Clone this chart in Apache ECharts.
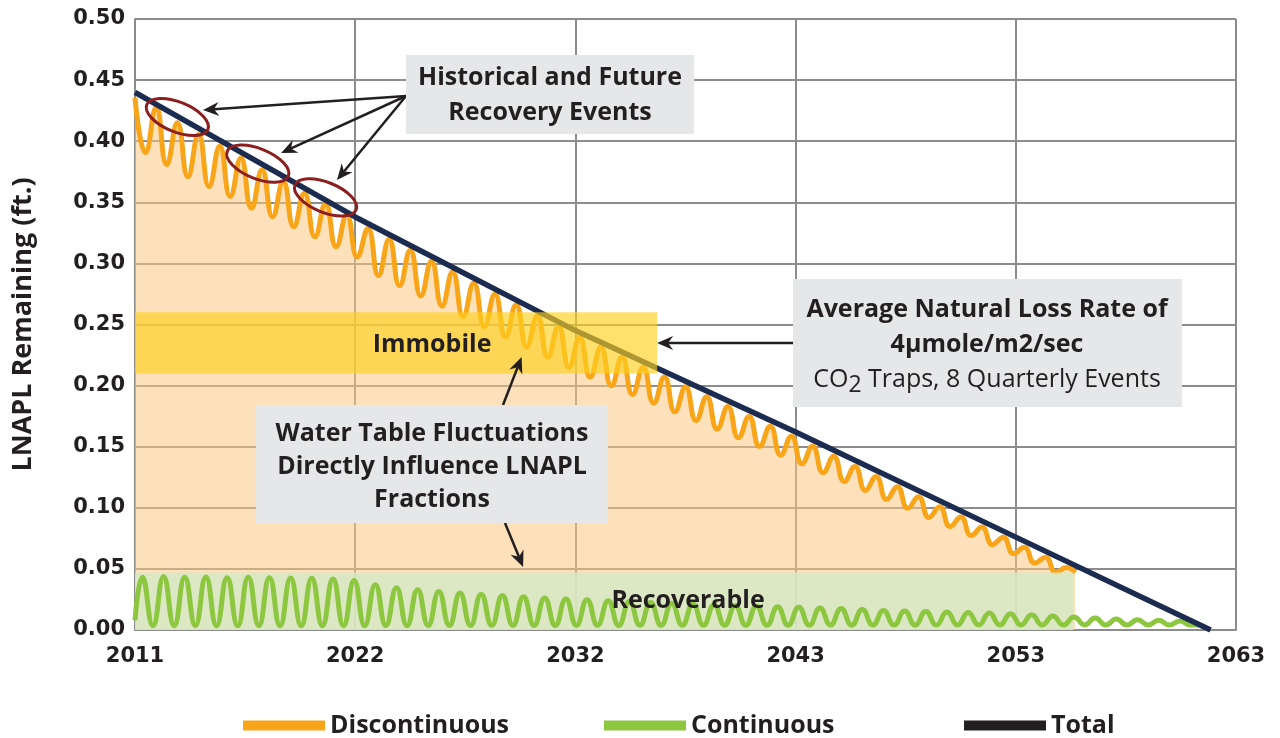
<!DOCTYPE html>
<html>
<head>
<meta charset="utf-8">
<script src="https://cdn.jsdelivr.net/npm/echarts@6/dist/echarts.min.js"></script>
<style>
  html, body { margin: 0; padding: 0; background: #ffffff; }
  #chart { width: 1280px; height: 738px; }
</style>
</head>
<body>
<div id="chart"></div>
<script>
// Horizontal axis runs in years since 2011; a labelled gridline every 10.4 years.
const tickLabels = ['2011', '2022', '2032', '2043', '2053', '2063'];
const tickStep = 10.4;

// Discontinuous LNAPL (ft.): seasonal highs at each whole year, lows half a year later.
const discontinuousPeaks = [
  0.4356, 0.4276, 0.4150, 0.4054, 0.3958, 0.3863, 0.3766, 0.3670, 0.3575, 0.3490, 0.3396,
  0.3286, 0.3197, 0.3108, 0.3018, 0.2929, 0.2839, 0.2750, 0.2661, 0.2571, 0.2482,
  0.2394, 0.2313, 0.2232, 0.2151, 0.2071, 0.1990, 0.1909, 0.1828, 0.1747, 0.1667,
  0.1586, 0.1504, 0.1421, 0.1338, 0.1256, 0.1173, 0.1090, 0.1008, 0.0925, 0.0842,
  0.0760, 0.0677, 0.0595, 0.0512
];
const discontinuousTroughs = [
  0.3906, 0.3808, 0.3710, 0.3629, 0.3547, 0.3451, 0.3382, 0.3300, 0.3218, 0.3136, 0.3053,
  0.2901, 0.2817, 0.2734, 0.2650, 0.2566, 0.2483, 0.2399, 0.2316, 0.2232, 0.2149,
  0.2070, 0.1998, 0.1927, 0.1856, 0.1785, 0.1714, 0.1644, 0.1573, 0.1502, 0.1431,
  0.1360, 0.1287, 0.1215, 0.1142, 0.1069, 0.0996, 0.0921, 0.0847, 0.0773, 0.0698,
  0.0623, 0.0548, 0.0471
];
const discontinuousEnd = [44.4, 0.047];

// Continuous LNAPL (ft.): highs at year + 0.35, lows at year + 0.85.
const continuousStart = [0, 0.008];
const continuousPeaks = [
  0.0431, 0.0435, 0.0431, 0.0433, 0.0428, 0.0432, 0.0428, 0.0425, 0.0423, 0.0418,
  0.0405, 0.0370, 0.0345, 0.0330, 0.0315, 0.0303, 0.0292, 0.0282, 0.0272, 0.0262,
  0.0254, 0.0247, 0.0240, 0.0233, 0.0226, 0.0219, 0.0213, 0.0207, 0.0201, 0.0196,
  0.0191, 0.0186, 0.0181, 0.0176, 0.0168, 0.0160, 0.0155, 0.0151, 0.0147, 0.0143,
  0.0139, 0.0133, 0.0125, 0.0115, 0.0106, 0.0098, 0.0090, 0.0084, 0.0079, 0.0074
];
const continuousTroughs = [
  0.0035, 0.0034, 0.0035, 0.0035, 0.0034, 0.0035, 0.0035, 0.0034, 0.0035, 0.0035,
  0.0035, 0.0036, 0.0035, 0.0036, 0.0036, 0.0036, 0.0037, 0.0036, 0.0037, 0.0037,
  0.0037, 0.0038, 0.0037, 0.0038, 0.0038, 0.0038, 0.0038, 0.0039, 0.0038, 0.0039,
  0.0039, 0.0039, 0.0040, 0.0039, 0.0040, 0.0040, 0.0040, 0.0040, 0.0041, 0.0040,
  0.0041, 0.0041, 0.0041, 0.0041, 0.0041, 0.0041, 0.0041, 0.0041, 0.0041, 0.0041
];
const continuousEnd = [50.3, 0.004];

// Total LNAPL remaining (ft.)
const totalYears = [0, 10.4, 20.8, 31.2, 41.6, 50.8];
const totalValues = [0.440, 0.338, 0.245, 0.162, 0.076, 0.000];

// Shaded fraction bands: [year from, year to, value from, value to]
const immobileBand = [0, 24.66, 0.21, 0.26];
const recoverableBand = [0, 44.3, 0, 0.047];

const C = {
  orange: '#f9a51a',
  green: '#8dc63f',
  navy: '#1c2b50',
  ink: '#231f20',
  grid: '#8c8c8c',
  box: '#e6e7e8',
  ring: '#8b1e1e'
};
const FONT = 'Open Sans';

const discontinuousData = [];
discontinuousPeaks.forEach((v, k) => {
  discontinuousData.push([k, v]);
  if (k < discontinuousTroughs.length) discontinuousData.push([k + 0.5, discontinuousTroughs[k]]);
});
discontinuousData.push(discontinuousEnd);

const continuousData = [continuousStart];
continuousPeaks.forEach((v, k) => {
  continuousData.push([k + 0.35, v]);
  continuousData.push([k + 0.85, continuousTroughs[k]]);
});
continuousData.push(continuousEnd);

const totalData = totalYears.map((t, i) => [t, totalValues[i]]);

const chart = echarts.init(document.getElementById('chart'), null, { renderer: 'canvas' });

const labelFont = { fontFamily: 'DejaVu Sans', fontWeight: 'bold', fontSize: 21, color: C.ink };
const legendText = { fontFamily: FONT, fontWeight: 'bold', fontSize: 25, color: C.ink };

function legendAt(left, name, color) {
  return {
    left, top: 708, itemWidth: 82, itemHeight: 10, icon: 'rect', selectedMode: false,
    textStyle: legendText,
    data: [{ name, itemStyle: { color } }]
  };
}

chart.setOption({
  animation: false,
  backgroundColor: '#ffffff',
  grid: { left: 135, right: 44, top: 19, bottom: 108, containLabel: false },
  xAxis: {
    type: 'value', min: 0, max: 52, interval: tickStep,
    axisLine: { show: true, lineStyle: { color: C.grid, width: 2 } },
    axisTick: { show: false },
    splitLine: { show: true, lineStyle: { color: C.grid, width: 2 } },
    axisLabel: Object.assign({ margin: 16, formatter: v => tickLabels[Math.round(v / tickStep)] }, labelFont)
  },
  yAxis: {
    type: 'value', min: 0, max: 0.5, interval: 0.05,
    name: 'LNAPL Remaining (ft.)', nameLocation: 'middle', nameGap: 98,
    nameTextStyle: { fontFamily: FONT, fontWeight: 'bold', fontSize: 27, color: C.ink },
    axisLine: { show: true, lineStyle: { color: C.grid, width: 2 } },
    axisTick: { show: false },
    splitLine: { show: true, lineStyle: { color: C.grid, width: 2 } },
    axisLabel: Object.assign({ margin: 10, formatter: v => v.toFixed(2) }, labelFont)
  },
  legend: [
    legendAt(238, 'Discontinuous', C.orange),
    legendAt(599, 'Continuous', C.green),
    legendAt(959, 'Total', C.ink)
  ],
  series: [
    {
      name: 'Discontinuous', type: 'line', z: 2, smooth: true, showSymbol: false,
      data: discontinuousData,
      itemStyle: { color: C.orange },
      lineStyle: { color: C.orange, width: 5 },
      areaStyle: { color: 'rgba(252,200,130,0.55)', opacity: 1, origin: 'start' }
    },
    {
      name: 'recoverable-band', type: 'line', z: 3, data: [], silent: true,
      markArea: {
        z: 3, silent: true,
        label: { show: false },
        itemStyle: { color: 'rgba(214,232,196,0.85)', opacity: 1 },
        data: [[
          { coord: [recoverableBand[0], recoverableBand[2]] },
          { coord: [recoverableBand[1], recoverableBand[3]] }
        ]]
      }
    },
    {
      name: 'Continuous', type: 'line', z: 4, smooth: true, showSymbol: false,
      data: continuousData,
      itemStyle: { color: C.green },
      lineStyle: { color: C.green, width: 5 }
    },
    {
      name: 'Total', type: 'line', z: 5, showSymbol: false,
      data: totalData,
      itemStyle: { color: C.navy },
      lineStyle: { color: C.navy, width: 5.5 }
    },
    {
      name: 'immobile-band', type: 'line', z: 6, data: [], silent: true,
      markArea: {
        z: 6, silent: true,
        label: { show: false },
        itemStyle: { color: 'rgba(253,208,30,0.65)', opacity: 1 },
        data: [[
          { coord: [immobileBand[0], immobileBand[2]] },
          { coord: [immobileBand[1], immobileBand[3]] }
        ]]
      }
    }
  ]
});

// ---- Annotations ----
const px = p => chart.convertToPixel({ gridIndex: 0 }, p);

// Recovery events on the total curve, in [year, value]
const recoveryRings = [[2.0, 0.4198], [5.8, 0.3816], [9.0, 0.3540]];
const recoveryArrowTips = [[3.21, 0.4255], [6.90, 0.3903], [9.54, 0.3682]];
const immobileArrowTip = [24.66, 0.2349];
const fluctuationUpTip = [18.26, 0.2234];
const fluctuationDownTip = [18.33, 0.0516];
const immobileLabelAt = [14.03, 0.2332];
const recoverableLabelAt = [26.12, 0.0237];

const elements = [];

function arrow(from, to) {
  const dx = to[0] - from[0], dy = to[1] - from[1];
  const len = Math.hypot(dx, dy);
  const ux = dx / len, uy = dy / len, nx = -uy, ny = ux;
  const L = 16, W = 7, N = 5;
  const bx = to[0] - ux * L, by = to[1] - uy * L;
  const notch = [to[0] - ux * (L - N), to[1] - uy * (L - N)];
  elements.push({
    type: 'line', z: 90,
    shape: { x1: from[0], y1: from[1], x2: notch[0], y2: notch[1] },
    style: { stroke: C.ink, lineWidth: 2.5 }
  });
  elements.push({
    type: 'polygon', z: 90,
    shape: { points: [to, [bx + nx * W, by + ny * W], notch, [bx - nx * W, by - ny * W]] },
    style: { fill: C.ink }
  });
}

function box(x, y, w, h) {
  elements.push({ type: 'rect', z: 95, shape: { x, y, width: w, height: h }, style: { fill: C.box } });
}

function label(x, y, text, extra) {
  elements.push({
    type: 'text', z: 96, x, y,
    style: Object.assign({
      text, align: 'center', verticalAlign: 'middle',
      font: 'bold 25px "' + FONT + '"', fill: C.ink, lineHeight: 34
    }, extra || {})
  });
}

recoveryRings.forEach(c => {
  const p = px(c);
  elements.push({
    type: 'ellipse', z: 92, x: p[0], y: p[1], rotation: -22 * Math.PI / 180,
    shape: { cx: 0, cy: 0, rx: 33, ry: 15 },
    style: { fill: 'none', stroke: C.ring, lineWidth: 3 }
  });
});

recoveryArrowTips.forEach(t => arrow([406, 96], px(t)));
arrow([793, 343], px(immobileArrowTip));
arrow([503, 405], px(fluctuationUpTip));
arrow([505, 523], px(fluctuationDownTip));

const im = px(immobileLabelAt);
label(im[0], im[1], 'Immobile', { z: 80 });
const rc = px(recoverableLabelAt);
label(rc[0], rc[1], 'Recoverable', { z: 80 });

box(406, 55, 288, 79);
label(550, 95.5, 'Historical and Future\nRecovery Events', { lineHeight: 35 });

box(256, 405, 352, 118);
label(432, 467, 'Water Table Fluctuations\nDirectly Influence LNAPL\nFractions', { lineHeight: 33 });

box(793, 279, 389, 128);
elements.push({
  type: 'text', z: 96, x: 987, y: 345,
  style: {
    text: '{b|Average Natural Loss Rate of}\n{b|4µmole/m2/sec}\n{r|CO}{s|2}{r| Traps, 8 Quarterly Events}',
    align: 'center', verticalAlign: 'middle',
    rich: {
      b: { fontFamily: FONT, fontWeight: 'bold', fontSize: 25, lineHeight: 35, fill: C.ink },
      r: { fontFamily: FONT, fontWeight: 'normal', fontSize: 25, lineHeight: 35, fill: C.ink },
      s: { fontFamily: FONT, fontWeight: 'normal', fontSize: 23, lineHeight: 35, fill: C.ink, padding: [10, 0, 0, 0] }
    }
  }
});

chart.setOption({ graphic: { elements } });
</script>
</body>
</html>
